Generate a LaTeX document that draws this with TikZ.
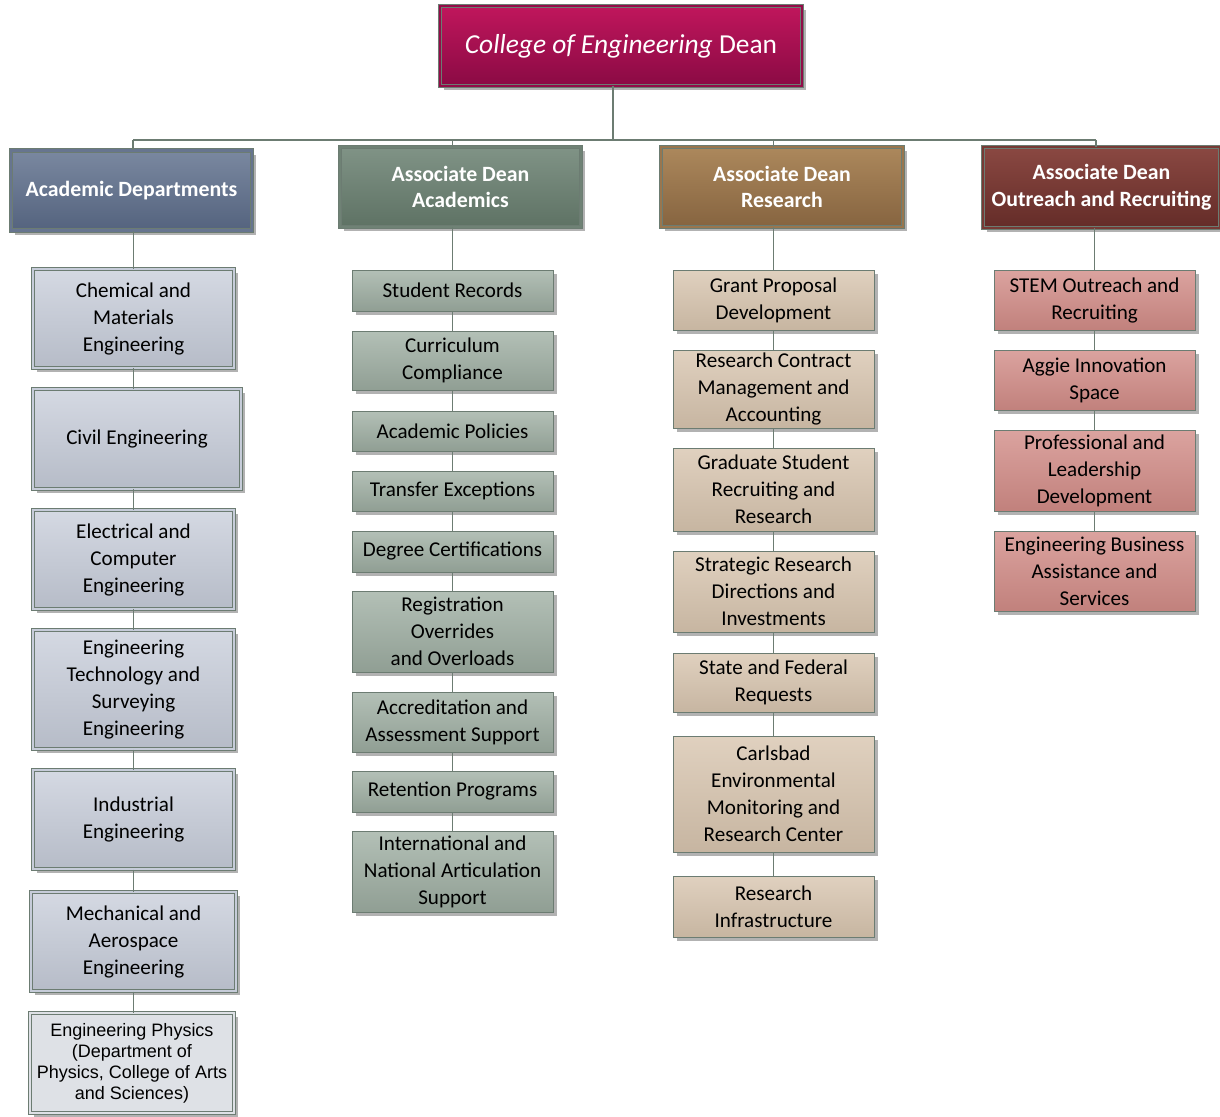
\documentclass[tikz,border=0pt]{standalone}
\usepackage{fontspec}
\setmainfont{Carlito}
\newfontfamily\arialfont{Liberation Sans}
\usetikzlibrary{shadows}
\usepackage{xcolor}
\def\pxl{0.025cm}
\def\colw{201}

\definecolor{frame}{RGB}{108,124,114}
\definecolor{deantop}{RGB}{192,22,92}
\definecolor{deanbot}{RGB}{138,10,68}
\definecolor{depttop}{RGB}{122,136,160}
\definecolor{deptbot}{RGB}{84,99,126}
\definecolor{acadtop}{RGB}{128,147,134}
\definecolor{acadbot}{RGB}{94,114,100}
\definecolor{restop}{RGB}{172,136,92}
\definecolor{resbot}{RGB}{134,100,64}
\definecolor{outtop}{RGB}{138,72,66}
\definecolor{outbot}{RGB}{100,44,40}
\definecolor{deptfill}{RGB}{198,204,217}
\definecolor{acadfill}{RGB}{160,176,164}
\definecolor{resfill}{RGB}{216,197,175}
\definecolor{outfill}{RGB}{210,140,135}
\definecolor{physfill}{RGB}{222,225,230}

\begin{document}
\begin{tikzpicture}[x=\pxl, y=-\pxl, font=\fontsize{15}{19.2}\selectfont]
    \tikzstyle{conn}=[draw=frame, line width=1pt]
    \tikzstyle{unit}=[rectangle, draw=frame, line width=0.7pt, align=center, inner sep=0pt,
        drop shadow={fill=black!30, opacity=1, shadow xshift=0.11cm, shadow yshift=-0.11cm}]
    \tikzstyle{framed}=[unit, double distance=1.8pt]
    \tikzstyle{head}=[framed, text=white, font=\fontsize{15.5}{19}\selectfont\bfseries, minimum width=241*\pxl, minimum height=80*\pxl]
    \tikzstyle{dept}=[framed, double=deptfill, top color=deptfill!75!white, bottom color=deptfill!92!black, minimum width=\colw*\pxl]
    \tikzstyle{acad}=[unit, top color=acadfill!80!white, bottom color=acadfill!90!black, minimum width=\colw*\pxl]
    \tikzstyle{res}=[unit, top color=resfill!80!white, bottom color=resfill!92!black, minimum width=\colw*\pxl]
    \tikzstyle{outr}=[unit, top color=outfill!80!white, bottom color=outfill!92!black, minimum width=\colw*\pxl]

    \useasboundingbox (0,0) rectangle (1220,1116);

    % Dean and the four units
    \node[framed, double=deanbot!85!deantop, top color=deantop, bottom color=deanbot, text=white,
        font=\fontsize{19.5}{22}\selectfont, minimum width=362*\pxl, minimum height=80*\pxl]
        (dean) at (621,46) {\textit{College of Engineering} Dean};

    \node[head, double=depttop!50!deptbot, top color=depttop, bottom color=deptbot] (H-1) at (131.5,190.5) {Academic Departments};
    \node[head, double=acadtop!50!acadbot, top color=acadtop, bottom color=acadbot] (H-2) at (460.5,187) {Associate Dean\\Academics};
    \node[head, double=restop!50!resbot, top color=restop, bottom color=resbot, minimum width=242*\pxl] (H-3) at (782,187) {Associate Dean\\Research};
    \node[head, double=outtop!50!outbot, top color=outtop, bottom color=outbot, minimum width=237*\pxl, minimum height=81*\pxl] (H-4) at (1101.5,187.5) {Associate Dean\\Outreach and Recruiting};

    % Academic departments
    \node[dept, minimum height=99*\pxl] (A-1) at (133.5,318.5) {Chemical and\\Materials\\Engineering};
    \node[dept, minimum height=100*\pxl, minimum width=208*\pxl] (A-2) at (137,439) {Civil Engineering};
    \node[dept, minimum height=99*\pxl] (A-3) at (133.5,559.5) {Electrical and\\Computer\\Engineering};
    \node[dept, minimum height=119*\pxl] (A-4) at (133.5,689.5) {Engineering\\Technology and\\Surveying\\Engineering};
    \node[dept, minimum height=99*\pxl] (A-5) at (133.5,819.5) {Industrial\\Engineering};
    \node[dept, minimum height=99*\pxl, minimum width=205*\pxl] (A-6) at (133.5,941.5) {Mechanical and\\Aerospace\\Engineering};
    \node[framed, double=physfill, fill=physfill, minimum height=100*\pxl, minimum width=204*\pxl,
        font=\arialfont\fontsize{12.8}{15}\selectfont] (A-7) at (132,1063)
        {Engineering Physics\\(Department of\\Physics, College of Arts\\and Sciences)};

    % Academics
    \node[acad, minimum height=41*\pxl] (B-1) at (452.5,290.5) {Student Records};
    \node[acad, minimum height=59*\pxl] (B-2) at (452.5,360.5) {Curriculum\\Compliance};
    \node[acad, minimum height=40*\pxl] (B-3) at (452.5,431) {Academic Policies};
    \node[acad, minimum height=40*\pxl] (B-4) at (452.5,491) {Transfer Exceptions};
    \node[acad, minimum height=41*\pxl] (B-5) at (452.5,551.5) {Degree Certifications};
    \node[acad, minimum height=81*\pxl] (B-6) at (452.5,631.5) {Registration\\Overrides\\and Overloads};
    \node[acad, minimum height=60*\pxl] (B-7) at (452.5,722) {Accreditation and\\Assessment Support};
    \node[acad, minimum height=41*\pxl] (B-8) at (452.5,791.5) {Retention Programs};
    \node[acad, minimum height=81*\pxl] (B-9) at (452.5,871.5) {International and\\National Articulation\\Support};

    % Research
    \node[res, minimum height=60*\pxl] (C-1) at (773.5,300) {Grant Proposal\\Development};
    \node[res, minimum height=78*\pxl] (C-2) at (773.5,389) {Research Contract\\Management and\\Accounting};
    \node[res, minimum height=83*\pxl] (C-3) at (773.5,489.5) {Graduate Student\\Recruiting and\\Research};
    \node[res, minimum height=81*\pxl] (C-4) at (773.5,591.5) {Strategic Research\\Directions and\\Investments};
    \node[res, minimum height=59*\pxl] (C-5) at (773.5,682.5) {State and Federal\\Requests};
    \node[res, minimum height=116*\pxl] (C-6) at (773.5,794) {Carlsbad\\Environmental\\Monitoring and\\Research Center};
    \node[res, minimum height=61*\pxl] (C-7) at (773.5,906.5) {Research\\Infrastructure};

    % Outreach and recruiting
    \node[outr, minimum height=60*\pxl] (D-1) at (1094.5,300) {STEM Outreach and\\Recruiting};
    \node[outr, minimum height=60*\pxl] (D-2) at (1094.5,380) {Aggie Innovation\\Space};
    \node[outr, minimum height=81*\pxl] (D-3) at (1094.5,470.5) {Professional and\\Leadership\\Development};
    \node[outr, minimum height=80*\pxl] (D-4) at (1094.5,571) {Engineering Business\\Assistance and\\Services};

    % Bus under the dean
    \coordinate (top) at (613,140);
    \coordinate (b-1) at (133,140);
    \coordinate (b-2) at (452.5,140);
    \coordinate (b-3) at (773.5,140);
    \coordinate (b-4) at (1096,140);
    \draw[conn] (top) -- (top |- dean.south);
    \draw[conn] (b-1) -- (b-4);
    \foreach \k in {1,...,4}
        \draw[conn] (b-\k) -- (b-\k |- H-\k.north);

    % Columns
    \draw[conn] (A-1) -- (A-1 |- H-1.south);
    \draw[conn] (B-1) -- (B-1 |- H-2.south);
    \draw[conn] (C-1) -- (C-1 |- H-3.south);
    \draw[conn] (D-1) -- (D-1 |- H-4.south);
    \foreach \i [count=\j from 2] in {1,...,6}
        \draw[conn] (A-\i.south -| A-1) -- (A-\j.north -| A-1);
    \foreach \i [count=\j from 2] in {1,...,8}
        \draw[conn] (B-\i) -- (B-\j);
    \foreach \i [count=\j from 2] in {1,...,6}
        \draw[conn] (C-\i) -- (C-\j);
    \foreach \i [count=\j from 2] in {1,...,3}
        \draw[conn] (D-\i) -- (D-\j);
\end{tikzpicture}
\end{document}
